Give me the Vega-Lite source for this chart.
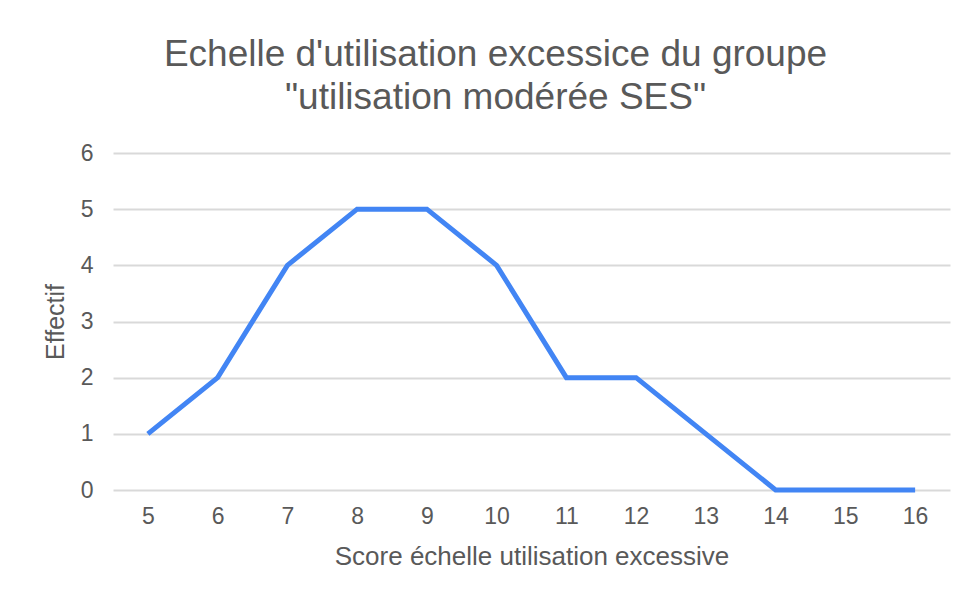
{
  "$schema": "https://vega.github.io/schema/vega-lite/v6.json",
  "width": 837,
  "height": 337,
  "autosize": "none",
  "padding": {"left": 113, "top": 153, "right": 20, "bottom": 108},
  "background": "white",
  "config": {
    "view": {"stroke": null},
    "font": "Liberation Sans"
  },
  "title": {
    "text": ["Echelle d'utilisation excessice du groupe", "\"utilisation modérée SES\""],
    "fontSize": 37,
    "font": "Liberation Sans",
    "fontWeight": "normal",
    "color": "#595959",
    "anchor": "middle",
    "dx": -36,
    "offset": 25,
    "lineHeight": 43
  },
  "data": {
    "values": [
      {"score": 5, "effectif": 1},
      {"score": 6, "effectif": 2},
      {"score": 7, "effectif": 4},
      {"score": 8, "effectif": 5},
      {"score": 9, "effectif": 5},
      {"score": 10, "effectif": 4},
      {"score": 11, "effectif": 2},
      {"score": 12, "effectif": 2},
      {"score": 13, "effectif": 1},
      {"score": 14, "effectif": 0},
      {"score": 15, "effectif": 0},
      {"score": 16, "effectif": 0}
    ]
  },
  "mark": {"type": "line", "color": "#4285f4", "strokeWidth": 5, "strokeCap": "butt", "strokeJoin": "miter"},
  "encoding": {
    "x": {
      "field": "score",
      "type": "ordinal",
      "sort": null,
      "scale": {"type": "point", "padding": 0.5},
      "axis": {
        "title": "Score échelle utilisation excessive",
        "titleFontSize": 26,
        "titleFontWeight": "normal",
        "titleColor": "#595959",
        "titlePadding": 15,
        "labelAngle": 0,
        "labelFontSize": 23,
        "labelColor": "#595959",
        "labelPadding": 15,
        "domain": false,
        "ticks": false,
        "grid": false
      }
    },
    "y": {
      "field": "effectif",
      "type": "quantitative",
      "scale": {"domain": [0, 6]},
      "axis": {
        "title": "Effectif",
        "titleFontSize": 25,
        "titleFontWeight": "normal",
        "titleColor": "#595959",
        "titlePadding": 12,
        "values": [0, 1, 2, 3, 4, 5, 6],
        "labelFontSize": 23,
        "labelColor": "#595959",
        "labelPadding": 20,
        "domain": false,
        "ticks": false,
        "grid": true,
        "gridColor": "#d9d9d9",
        "gridWidth": 2
      }
    }
  }
}
